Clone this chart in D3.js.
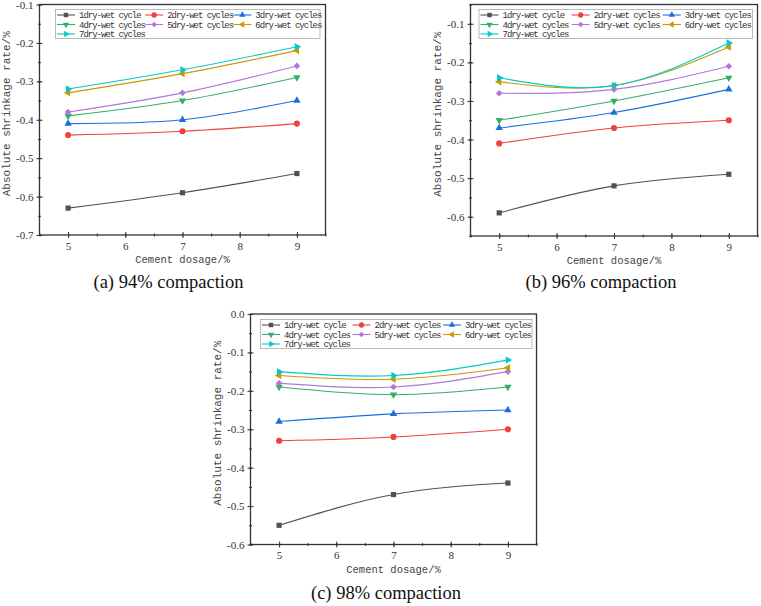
<!DOCTYPE html>
<html>
<head>
<meta charset="utf-8">
<script src="https://cdn.jsdelivr.net/npm/d3@7"></script>
<style>
body { margin: 0; background: #fff; }
svg { display: block; }
.tick text { font-family: "Liberation Serif", serif; font-size: 11px; fill: #333; }
.ttl { font-family: "Liberation Mono", monospace; fill: #444; }
.cap { font-family: "Liberation Serif", serif; font-size: 18.5px; fill: #111; }
.lg { font-family: "Liberation Mono", monospace; font-size: 9px; letter-spacing: -1px; fill: #333; }
</style>
</head>
<body>
<svg width="761" height="606"></svg>
<script>
var dosage = [5, 7, 9];
var xTicks = [5, 6, 7, 8, 9];
var cycles = ["1dry-wet cycle", "2dry-wet cycles", "3dry-wet cycles", "4dry-wet cycles",
              "5dry-wet cycles", "6dry-wet cycles", "7dry-wet cycles"];
var colors = ["#515151", "#f14040", "#1a6fdf", "#37ad6b", "#b177de", "#cc9900", "#00cbcc"];

// absolute shrinkage rate (%) for each cycle count at cement dosage 5, 7, 9
var rate94 = [
  [-0.63, -0.59, -0.54],
  [-0.44, -0.43, -0.41],
  [-0.41, -0.40, -0.35],
  [-0.39, -0.35, -0.29],
  [-0.38, -0.33, -0.26],
  [-0.33, -0.28, -0.22],
  [-0.32, -0.27, -0.21]
];
var rate96 = [
  [-0.59, -0.52, -0.49],
  [-0.41, -0.37, -0.35],
  [-0.37, -0.33, -0.27],
  [-0.35, -0.30, -0.24],
  [-0.28, -0.27, -0.21],
  [-0.25, -0.26, -0.16],
  [-0.24, -0.26, -0.15]
];
var rate98 = [
  [-0.55, -0.47, -0.44],
  [-0.33, -0.32, -0.30],
  [-0.28, -0.26, -0.25],
  [-0.19, -0.21, -0.19],
  [-0.18, -0.19, -0.15],
  [-0.16, -0.17, -0.14],
  [-0.15, -0.16, -0.12]
];
var yTicks94 = [-0.7, -0.6, -0.5, -0.4, -0.3, -0.2, -0.1];
var yTicks96 = [-0.6, -0.5, -0.4, -0.3, -0.2, -0.1];
var yTicks98 = [-0.6, -0.5, -0.4, -0.3, -0.2, -0.1, 0.0];
var captions = ["(a) 94% compaction", "(b) 96% compaction", "(c) 98% compaction"];

var panels = [
  {data: rate94, yd: [-0.7, -0.1], yt: yTicks94, l: 39.5, r: 325.5, t: 4.5, b: 235, lgx: 55.5, lgw: 264.5, lgy: 9.5, cx: 168.5, cy: 288},
  {data: rate96, yd: [-0.65, -0.05], yt: yTicks96, l: 470.5, r: 757.5, t: 4.5, b: 236, lgx: 479, lgw: 273.5, lgy: 9.5, cx: 601, cy: 288},
  {data: rate98, yd: [-0.6, 0], yt: yTicks98, l: 250.5, r: 536.5, t: 314, b: 544.5, lgx: 260.5, lgw: 271.5, lgy: 319.5, cx: 386, cy: 599}
];

var svg = d3.select("svg");

function markerPath(i, size) {
  var s = size;
  if (i == 0) return d3.symbol(d3.symbolSquare, s * 0.9)();
  if (i == 1) return d3.symbol(d3.symbolCircle, s)();
  if (i == 4) return d3.symbol(d3.symbolSquare, s * 0.75)();
  return d3.symbol(d3.symbolTriangle, s * 0.8)();
}
function markerRot(i) {
  return [0, 0, 0, 180, 45, -90, 90][i];
}
var fmt = function(d) { return d3.format(".1f")(d).replace("\u2212", "-"); };

function tidy(a) {
  a.select(".domain").remove();
  a.selectAll("line").attr("stroke", "#333");
}

panels.forEach(function(p, k) {
  var x = d3.scaleLinear().domain([4.5, 9.5]).range([p.l, p.r]);
  var y = d3.scaleLinear().domain(p.yd).range([p.b, p.t]);
  var g = svg.append("g");

  var yMinor = d3.range(p.yd[0], p.yd[1] + 0.001, 0.05).map(function(v) { return +v.toFixed(3); });
  var xMinor = d3.range(4.5, 9.6, 0.5);

  // frame
  g.append("rect").attr("x", p.l).attr("y", p.t).attr("width", p.r - p.l).attr("height", p.b - p.t)
    .attr("fill", "none").attr("stroke", "#333").attr("stroke-width", 1.3);

  // left axis, ticks cross the line
  g.append("g").attr("transform", "translate(" + p.l + ",0)")
    .call(d3.axisLeft(y).tickValues(p.yt).tickSize(3).tickPadding(3).tickFormat(fmt)).call(tidy);
  g.append("g").attr("transform", "translate(" + p.l + ",0)")
    .call(d3.axisRight(y).tickValues(p.yt).tickSize(3).tickFormat("")).call(tidy);
  g.append("g").attr("transform", "translate(" + p.l + ",0)")
    .call(d3.axisLeft(y).tickValues(yMinor).tickSize(1.5).tickFormat("")).call(tidy);
  g.append("g").attr("transform", "translate(" + p.l + ",0)")
    .call(d3.axisRight(y).tickValues(yMinor).tickSize(1.5).tickFormat("")).call(tidy);

  // bottom axis
  g.append("g").attr("transform", "translate(0," + p.b + ")")
    .call(d3.axisBottom(x).tickValues(xTicks).tickSize(3).tickPadding(4).tickFormat(d3.format("d"))).call(tidy);
  g.append("g").attr("transform", "translate(0," + p.b + ")")
    .call(d3.axisTop(x).tickValues(xTicks).tickSize(3).tickFormat("")).call(tidy);
  g.append("g").attr("transform", "translate(0," + p.b + ")")
    .call(d3.axisBottom(x).tickValues(xMinor).tickSize(1.5).tickFormat("")).call(tidy);
  g.append("g").attr("transform", "translate(0," + p.b + ")")
    .call(d3.axisTop(x).tickValues(xMinor).tickSize(1.5).tickFormat("")).call(tidy);

  // axis titles
  g.append("text").attr("class", "ttl").attr("x", (p.l + p.r) / 2).attr("y", p.b + 28)
    .attr("text-anchor", "middle").style("font-size", "10.5px").text("Cement dosage/%");
  g.append("text").attr("class", "ttl")
    .attr("transform", "translate(" + (p.l - 30) + "," + ((p.t + p.b) / 2 - 6) + ") rotate(-90)")
    .attr("text-anchor", "middle").style("font-size", "11px").text("Absolute shrinkage rate/%");

  // series
  var line = d3.line().curve(d3.curveNatural)
    .x(function(d, i) { return x(dosage[i]); })
    .y(function(d) { return y(d); });
  p.data.forEach(function(s, i) {
    g.append("path").datum(s).attr("d", line).attr("fill", "none")
      .attr("stroke", colors[i]).attr("stroke-width", 1.1);
    g.selectAll(null).data(s).enter().append("path")
      .attr("d", markerPath(i, 30))
      .attr("transform", function(d, j) { return "translate(" + x(dosage[j]) + "," + y(d) + ") rotate(" + markerRot(i) + ")"; })
      .attr("fill", colors[i]);
  });

  // legend
  var lg = g.append("g").attr("transform", "translate(" + p.lgx + "," + p.lgy + ")");
  lg.append("rect").attr("width", p.lgw).attr("height", 29).attr("fill", "#fff")
    .attr("stroke", "#aaa").attr("stroke-width", 0.8);
  cycles.forEach(function(c, i) {
    var cx = 1.5 + (i % 3) * p.lgw / 3;
    var cy = 5.5 + Math.floor(i / 3) * 9.5;
    lg.append("line").attr("x1", cx).attr("x2", cx + 18).attr("y1", cy).attr("y2", cy)
      .attr("stroke", colors[i]).attr("stroke-width", 1.1);
    lg.append("path").attr("d", markerPath(i, 22))
      .attr("transform", "translate(" + (cx + 9) + "," + cy + ") rotate(" + markerRot(i) + ")")
      .attr("fill", colors[i]);
    lg.append("text").attr("class", "lg").attr("x", cx + 22).attr("y", cy + 3).text(c);
  });

  // caption
  svg.append("text").attr("class", "cap").attr("x", p.cx).attr("y", p.cy)
    .attr("text-anchor", "middle").text(captions[k]);
});
</script>
</body>
</html>
